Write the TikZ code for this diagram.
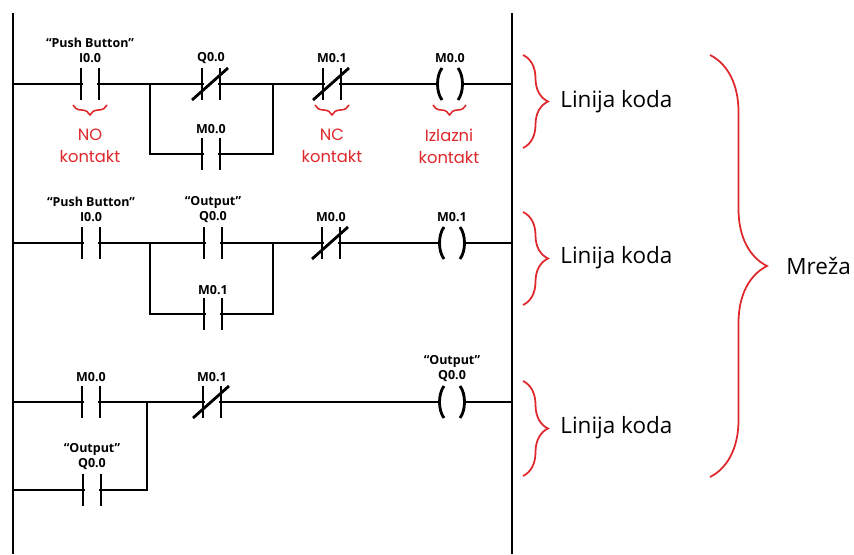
\documentclass[tikz,border=0pt]{standalone}
\usepackage{fontspec}
\newfontfamily\tagfont{Open Sans}
\newfontfamily\notefont{Poppins}
\newfontfamily\sidefont{Open Sans}
\usetikzlibrary{decorations.pathreplacing}
\definecolor{notered}{RGB}{222,40,44}

\begin{document}
\begin{tikzpicture}[x=0.02cm,y=-0.02cm,
  wire/.style={line width=1.6pt},
  tag/.style={font=\tagfont\bfseries\fontsize{7.1}{8}\selectfont,inner sep=0pt},
  note/.style={font=\notefont\fontsize{9.3}{12.4}\selectfont,color=notered,align=center,inner sep=0pt},
  side/.style={font=\sidefont\fontsize{12.8}{14}\selectfont,anchor=west,inner sep=0pt},
  smallbrace/.style={decorate,decoration={brace,amplitude=2mm},color=notered,line width=0.9pt},
  bigbrace/.style={decorate,decoration={brace,amplitude=#1},color=notered,line width=1pt},
  pics/nocon/.style={code={
    \fill[white] (-7,-4) rectangle (7,4);
    \draw[wire] (-9,-16)--(-9,16) (9,-16)--(9,16);}},
  pics/nccon/.style={code={
    \fill[white] (-7,-4) rectangle (7,4);
    \draw[wire] (-9,-16)--(-9,16) (9,-16)--(9,16);
    \draw[wire] (-19,16)--(17,-16);}},
  pics/coil/.style={code={
    \fill[white] (-11,-4) rectangle (11,4);
    \draw[wire] (-8,-16) .. controls (-14,-8) and (-14,8) .. (-8,16);
    \draw[wire] (8,-16) .. controls (14,-8) and (14,8) .. (8,16);}}]

\useasboundingbox (0,0) rectangle (854,554);

% rails
\coordinate (LT) at (13,13);
\coordinate (LB) at (13,554);
\coordinate (RT) at (512,13);
\coordinate (RB) at (512,554);

% rung 1
\coordinate (L1) at (13,84);
\coordinate (R1) at (512,84);
\coordinate (I1) at (90,84);
\coordinate (Q1) at (211,84);
\coordinate (M1lo) at (211,154);
\coordinate (M1) at (332,84);
\coordinate (C1) at (450,84);
\coordinate (B1a) at (150,84);
\coordinate (B1b) at (273,84);

\draw[wire] (L1)--(R1);
\draw[wire] (B1a) |- (M1lo) -| (B1b);

% rung 2
\coordinate (L2) at (13,243);
\coordinate (R2) at (512,243);
\coordinate (I2) at (91,243);
\coordinate (Q2) at (213,243);
\coordinate (M2lo) at (213,314);
\coordinate (M2) at (331,243);
\coordinate (C2) at (452,243);
\coordinate (B2a) at (150,243);
\coordinate (B2b) at (273,243);

\draw[wire] (L2)--(R2);
\draw[wire] (B2a) |- (M2lo) -| (B2b);

% rung 3
\coordinate (L3) at (13,402);
\coordinate (R3) at (512,402);
\coordinate (M3) at (91,402);
\coordinate (L3lo) at (13,490);
\coordinate (Q3lo) at (92,490);
\coordinate (N3) at (212,402);
\coordinate (C3) at (452,402);
\coordinate (B3) at (147,402);

\draw[wire] (L3)--(R3);
\draw[wire] (L3lo) -| (B3);

\draw[wire] (LT)--(LB);
\draw[wire] (RT)--(RB);

% elements
\pic at (I1) {nocon};
\pic at (Q1) {nccon};
\pic at (M1lo) {nocon};
\pic at (M1) {nccon};
\pic at (C1) {coil};

\pic at (I2) {nocon};
\pic at (Q2) {nocon};
\pic at (M2lo) {nocon};
\pic at (M2) {nccon};
\pic at (C2) {coil};

\pic at (M3) {nocon};
\pic at (Q3lo) {nocon};
\pic at (N3) {nccon};
\pic at (C3) {coil};

% tags
\node[tag] (tI1a) at (90,43) {“Push Button”};
\node[tag] (tI1) at (90,58) {I0.0};
\node[tag] (tQ1) at (211,58) {Q0.0};
\node[tag] (tM1lo) at (211,129) {M0.0};
\node[tag] (tM1) at (332,58) {M0.1};
\node[tag] (tC1) at (450,58) {M0.0};

\node[tag] (tI2a) at (91,202) {“Push Button”};
\node[tag] (tI2) at (91,217) {I0.0};
\node[tag] (tQ2a) at (213,202) {“Output”};
\node[tag] (tQ2) at (213,217) {Q0.0};
\node[tag] (tM2lo) at (213,290) {M0.1};
\node[tag] (tM2) at (331,217) {M0.0};
\node[tag] (tC2) at (452,217) {M0.1};

\node[tag] (tM3) at (91,377) {M0.0};
\node[tag] (tQ3a) at (92,449) {“Output”};
\node[tag] (tQ3) at (92,464) {Q0.0};
\node[tag] (tN3) at (212,377) {M0.1};
\node[tag] (tC3a) at (452,361) {“Output”};
\node[tag] (tC3) at (452,376) {Q0.0};

% notes
\draw[smallbrace] (107,105)--(73,105);
\draw[smallbrace] (349,105)--(315,105);
\draw[smallbrace] (466,105)--(433,105);
\node[note] (nNO) at (90,146) {NO\\kontakt};
\node[note] (nNC) at (332,146) {NC\\kontakt};
\node[note] (nOut) at (449,146) {Izlazni\\kontakt};

\draw[bigbrace=5mm] (523,55)--(523,148);
\draw[bigbrace=5mm] (523,212)--(523,305);
\draw[bigbrace=5mm] (523,381)--(523,476);
\draw[bigbrace=11.4mm] (710,55)--(710,477);

\node[side] (s1) at (560,102) {Linija koda};
\node[side] (s2) at (560,258) {Linija koda};
\node[side] (s3) at (560,428) {Linija koda};
\node[side] (s4) at (786,266) {Mreža};

\end{tikzpicture}
\end{document}
